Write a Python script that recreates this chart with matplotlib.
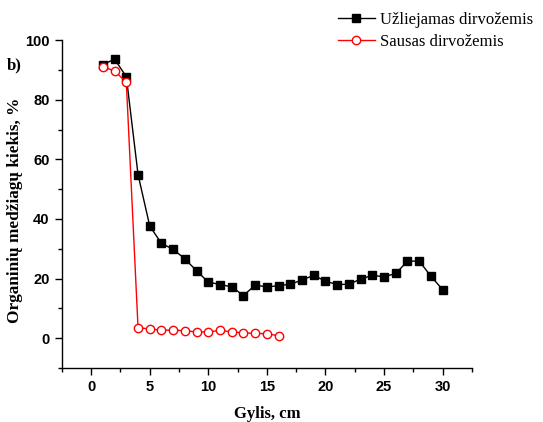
import numpy as np
from matplotlib import pyplot as plt

# depth, cm
depth_wet = list(range(1, 31))
organic_wet = [91.8, 93.6, 87.7, 54.9, 37.6, 31.8, 29.8, 26.6, 22.6, 18.8,
               18.0, 17.2, 14.3, 17.8, 17.2, 17.6, 18.1, 19.5, 21.1, 19.1,
               18.0, 18.1, 19.8, 21.1, 20.6, 21.7, 25.8, 25.9, 20.8, 16.3]

depth_dry = list(range(1, 17))
organic_dry = [91.0, 89.7, 85.8, 3.5, 3.1, 2.7, 2.7, 2.5, 2.1, 2.1,
               2.6, 2.1, 1.8, 1.6, 1.5, 0.8]

labels = ["Užliejamas dirvožemis", "Sausas dirvožemis"]

serif = "Liberation Serif"
sans = "Liberation Sans"

fig = plt.figure(figsize=(5.43, 4.22), dpi=100)
ax = fig.add_axes([0.114, 0.128, 0.755, 0.777])

l1, = ax.plot(depth_wet, organic_wet, color="black", lw=1, marker="s",
              ms=5.2, mfc="black", mec="black")
l2, = ax.plot(depth_dry, organic_dry, color="red", lw=1, marker="o",
              ms=6, mfc="white", mec="red")

ax.set_xlim(-2.5, 32.5)
ax.set_ylim(-10, 100)
ax.set_xticks([0, 5, 10, 15, 20, 25, 30])
ax.set_xticks(np.arange(-2.5, 33, 2.5), minor=True)
ax.set_yticks([0, 20, 40, 60, 80, 100])
ax.set_yticks(np.arange(-10, 101, 10), minor=True)

ax.spines["top"].set_visible(False)
ax.spines["right"].set_visible(False)
for s in ["left", "bottom"]:
    ax.spines[s].set_linewidth(1)
ax.tick_params(which="major", direction="out", length=5, width=1, pad=4)
ax.tick_params(which="minor", direction="out", length=3, width=1)

for t in ax.get_xticklabels() + ax.get_yticklabels():
    t.set_fontfamily(sans)
    t.set_fontweight("bold")
    t.set_fontsize(10.5)

ax.set_xlabel("Gylis, cm", fontfamily=serif, fontweight="bold", fontsize=12, labelpad=8)
ax.set_ylabel("Organinių medžiagų kiekis, %", fontfamily=serif, fontweight="bold",
              fontsize=12.4)
ax.yaxis.set_label_coords(-0.095, 0.482)

fig.text(0.013, 0.835, "b)", fontfamily=serif, fontweight="bold", fontsize=12)

fig.legend([l1, l2], labels, loc="upper left", bbox_to_anchor=(0.595, 1.008),
           frameon=False, prop={"family": serif, "size": 12},
           handlelength=2.2, labelspacing=0.4, handletextpad=0.3)

plt.savefig("out.png", dpi=100)
